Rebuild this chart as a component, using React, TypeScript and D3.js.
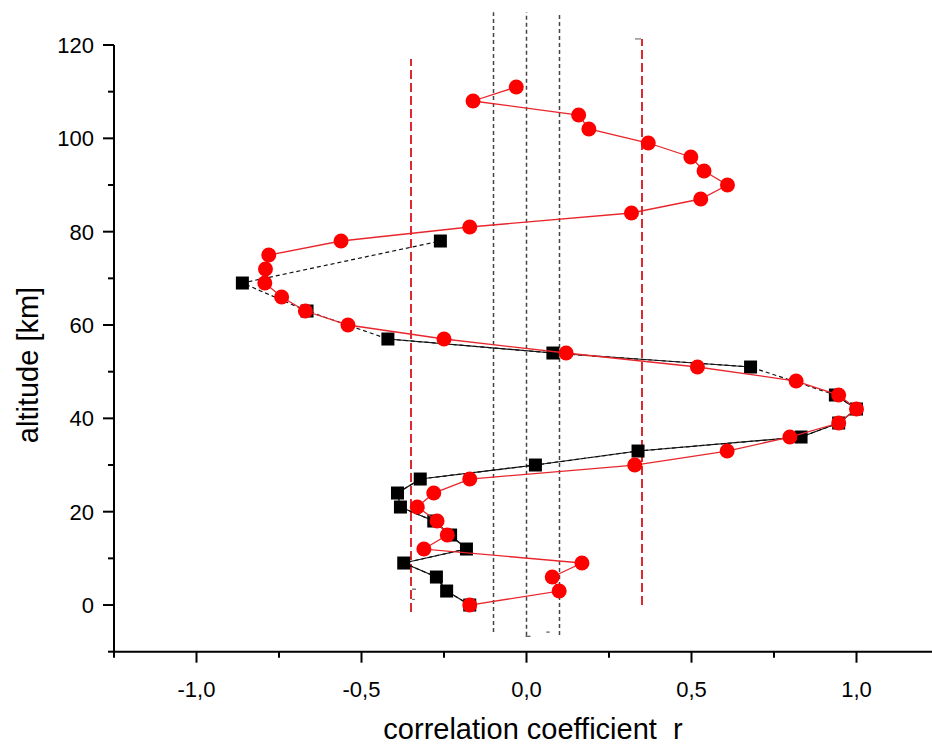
import React from "react";
import * as d3 from "d3";

// Altitudes (km) of the red series, one every 3 km
const redAltitude = [0, 3, 6, 9, 12, 15, 18, 21, 24, 27, 30, 33, 36, 39, 42, 45, 48, 51, 54, 57, 60, 63, 66, 69, 72, 75, 78, 81, 84, 87, 90, 93, 96, 99, 102, 105, 108, 111];
const redR = [-0.172, 0.099, 0.078, 0.168, -0.311, -0.24, -0.271, -0.331, -0.281, -0.172, 0.328, 0.608, 0.798, 0.946, 1.0, 0.946, 0.817, 0.518, 0.12, -0.25, -0.541, -0.67, -0.742, -0.793, -0.791, -0.781, -0.562, -0.172, 0.318, 0.528, 0.609, 0.538, 0.498, 0.369, 0.189, 0.158, -0.162, -0.031];

// Black series has gaps (48, 60, 66, 72, 75 km missing)
const blackAltitude = [0, 3, 6, 9, 12, 15, 18, 21, 24, 27, 30, 33, 36, 39, 42, 45, 51, 54, 57, 63, 69, 78];
const blackR = [-0.172, -0.242, -0.273, -0.372, -0.182, -0.23, -0.281, -0.382, -0.391, -0.322, 0.027, 0.338, 0.832, 0.946, 1.0, 0.936, 0.679, 0.08, -0.42, -0.665, -0.861, -0.261];

// Significance / reference levels: position in r, altitude extent
const refR = [-0.35, 0.35, -0.1, 0.0, 0.1];
const refFrom = [-1.5, 0, -5.8, -6.6, -6.4];
const refTo = [117, 121.3, 127, 127, 126.5];
const refKind = ["red", "red", "grey", "grey", "grey"];

const xMajor = [-1, -0.5, 0, 0.5, 1];
const xMinor = [-1.25, -0.75, -0.25, 0.25, 0.75, 1.25];
const yMajor = [0, 20, 40, 60, 80, 100, 120];
const yMinor = [-10, 10, 30, 50, 70, 90, 110];

const W = 932;
const H = 746;

export default function App() {
  const x = d3.scaleLinear().domain([-1.25, 1.25]).range([114, 939]);
  const y = d3.scaleLinear().domain([-10, 120]).range([651.7, 45]);

  const red = redAltitude.map((a, i) => ({ a, r: redR[i] }));
  const black = blackAltitude.map((a, i) => ({ a, r: blackR[i] }));

  const line = d3
    .line<{ a: number; r: number }>()
    .x((d) => x(d.r))
    .y((d) => y(d.a));

  // consecutive black points 3 km apart get a solid segment; gaps stay dashed
  const blackSolid: { a: number; r: number }[][] = [];
  for (let i = 1; i < black.length; i++) {
    if (black[i].a - black[i - 1].a === 3) blackSolid.push([black[i - 1], black[i]]);
  }

  // decimal comma and a plain hyphen for negatives
  const fmt = (v: number) => d3.format(".1f")(v).replace("\u2212", "-").replace(".", ",");
  const font = "'Liberation Sans', Arial, sans-serif";

  return (
    <svg
      width={W}
      height={H}
      style={{ position: "absolute", left: 0, top: 0, background: "#fff" }}
    >
      <rect x={0} y={0} width={W} height={H} fill="#fff" />

      {/* reference lines */}
      {refR.map((r, i) =>
        refKind[i] === "red" ? (
          <line
            key={"ref" + i}
            x1={x(r)}
            x2={x(r)}
            y1={y(refFrom[i])}
            y2={y(refTo[i])}
            stroke="#dc2a30"
            strokeWidth={2}
            strokeDasharray="9 4"
          />
        ) : (
          <line
            key={"ref" + i}
            x1={x(r)}
            x2={x(r)}
            y1={y(refFrom[i])}
            y2={y(refTo[i])}
            stroke="#444"
            strokeWidth={1.5}
            strokeDasharray="4 3"
          />
        )
      )}
      {/* small caps left at ends of reference lines */}
      <line x1={x(0.35) - 7} x2={x(0.35) - 1} y1={y(121.3)} y2={y(121.3)} stroke="#777" strokeWidth={1.2} />
      <line x1={x(-0.35) + 1} x2={x(-0.35) + 5} y1={y(3.4)} y2={y(3.4)} stroke="#555" strokeWidth={1.2} />
      <line x1={x(-0.35) + 1} x2={x(-0.35) + 4} y1={y(1.2)} y2={y(1.2)} stroke="#777" strokeWidth={1.2} />
      <line x1={x(0) - 1} x2={x(0) + 4} y1={y(-6.7)} y2={y(-6.7)} stroke="#555" strokeWidth={1.2} />
      <line x1={x(0.06)} x2={x(0.07)} y1={y(-5.8)} y2={y(-5.8)} stroke="#555" strokeWidth={1.2} />

      {/* black series */}
      <path d={line(black) || ""} fill="none" stroke="#111" strokeWidth={1.2} strokeDasharray="4 3" />
      {blackSolid.map((seg, i) => (
        <path key={"bs" + i} d={line(seg) || ""} fill="none" stroke="#111" strokeWidth={1.2} />
      ))}
      {black.map((d, i) => (
        <rect key={"bm" + i} x={x(d.r) - 6.5} y={y(d.a) - 6.5} width={13} height={13} fill="#000" />
      ))}

      {/* red series */}
      <path d={line(red) || ""} fill="none" stroke="#e8262c" strokeWidth={1.3} />
      {red.map((d, i) => (
        <circle key={"rm" + i} cx={x(d.r)} cy={y(d.a)} r={7.5} fill="#ff0000" />
      ))}

      {/* axes */}
      <line x1={x(-1.25)} x2={W + 10} y1={y(-10)} y2={y(-10)} stroke="#000" strokeWidth={2} />
      <line x1={x(-1.25)} x2={x(-1.25)} y1={y(-10)} y2={y(120)} stroke="#000" strokeWidth={2} />
      {xMajor.map((v) => (
        <g key={"xM" + v}>
          <line x1={x(v)} x2={x(v)} y1={y(-10)} y2={y(-10) + 11} stroke="#000" strokeWidth={2} />
          <text x={x(v)} y={697} textAnchor="middle" fontFamily={font} fontSize={22} fill="#000">
            {fmt(v)}
          </text>
        </g>
      ))}
      {xMinor.map((v) => (
        <line key={"xm" + v} x1={x(v)} x2={x(v)} y1={y(-10)} y2={y(-10) + 6} stroke="#000" strokeWidth={2} />
      ))}
      {yMajor.map((v) => (
        <g key={"yM" + v}>
          <line x1={x(-1.25) - 11} x2={x(-1.25)} y1={y(v)} y2={y(v)} stroke="#000" strokeWidth={2} />
          <text x={94} y={y(v) + 8} textAnchor="end" fontFamily={font} fontSize={22} fill="#000">
            {v}
          </text>
        </g>
      ))}
      {yMinor.map((v) => (
        <line key={"ym" + v} x1={x(-1.25) - 6} x2={x(-1.25)} y1={y(v)} y2={y(v)} stroke="#000" strokeWidth={2} />
      ))}

      {/* axis titles */}
      <text
        x={533}
        y={739}
        textAnchor="middle"
        fontFamily={font}
        fontSize={29}
        fill="#000"
        style={{ whiteSpace: "pre" }}
      >
        {"correlation coefficient  r"}
      </text>
      <text
        transform={`translate(38,365) rotate(-90)`}
        textAnchor="middle"
        fontFamily={font}
        fontSize={29}
        fill="#000"
      >
        altitude [km]
      </text>
    </svg>
  );
}
